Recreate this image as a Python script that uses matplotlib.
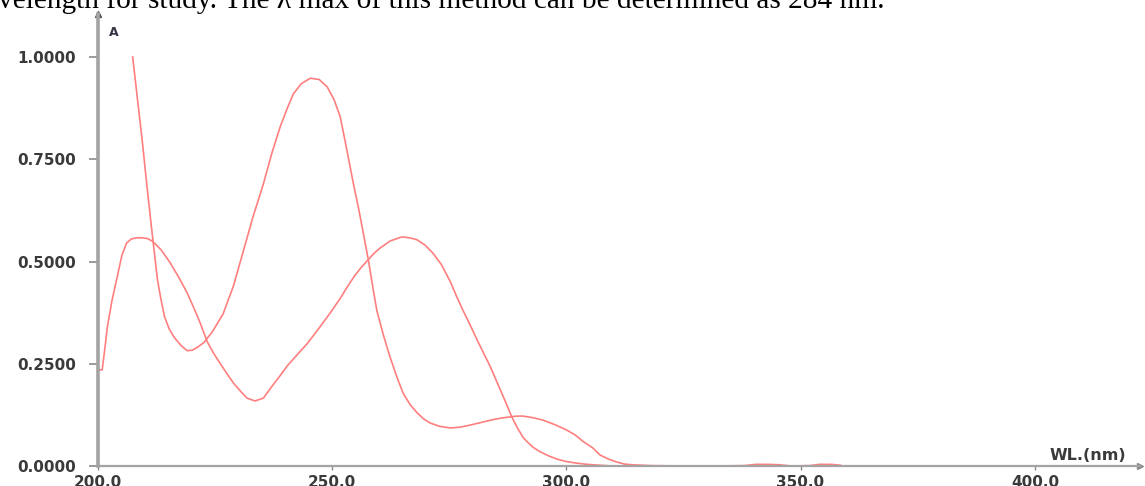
import numpy as np
import matplotlib
matplotlib.use("Agg")
import matplotlib.pyplot as plt

# spectrum 1 (starts high at ~207 nm, main peak ~245 nm)
wl1 = [207.5, 208.5, 209.5, 210.5, 211.5, 212.3, 212.8, 213.5, 214.3, 215.3, 216.4, 217.8,
       219.1, 220.2, 221.3, 222.7, 224.5, 226.8, 229.0, 231.1, 233.2, 235.4, 237.2, 239.0,
       240.5, 241.8, 243.5, 245.4, 247.3, 249.0, 250.5, 251.8, 253.2, 254.6, 255.7, 256.7,
       257.8, 258.7, 259.6, 261.0, 262.4, 263.8, 265.2, 266.7, 268.2, 269.6, 271.0, 273.0,
       275.3, 277.4, 279.5, 281.7, 283.8, 286.0, 288.0, 289.5, 290.8, 293.0, 295.1, 297.6,
       300.1, 301.9, 303.6, 305.7, 307.2, 309.0, 310.7, 312.3, 314.0, 318.0, 325.0, 332.0,
       338.0, 340.5, 343.0, 345.5, 348.0, 352.0, 354.0, 356.5, 358.5]
ab1 = [1.000, 0.900, 0.800, 0.690, 0.585, 0.505, 0.455, 0.410, 0.365, 0.335, 0.314, 0.295,
       0.282, 0.283, 0.290, 0.302, 0.328, 0.372, 0.440, 0.525, 0.610, 0.690, 0.765, 0.830,
       0.875, 0.910, 0.935, 0.948, 0.945, 0.927, 0.895, 0.853, 0.773, 0.690, 0.630, 0.570,
       0.503, 0.440, 0.380, 0.320, 0.267, 0.220, 0.178, 0.150, 0.130, 0.115, 0.105, 0.097,
       0.093, 0.095, 0.100, 0.106, 0.112, 0.117, 0.120, 0.122, 0.122, 0.118, 0.112, 0.101,
       0.088, 0.076, 0.060, 0.044, 0.027, 0.017, 0.010, 0.005, 0.003, 0.001, 0.000, 0.000,
       0.001, 0.004, 0.004, 0.003, 0.000, 0.001, 0.004, 0.004, 0.002]

# spectrum 2 (starts at 0.235, peaks ~209 nm and ~265 nm)
wl2 = [200.0, 201.0, 201.6, 202.1, 203.1, 204.2, 205.2, 206.2, 207.2, 208.3, 209.5, 210.7,
       211.8, 213.6, 215.5, 217.3, 219.1, 220.5, 221.9, 223.4, 224.8, 226.1, 227.6, 229.0,
       230.5, 231.9, 233.6, 235.4, 237.3, 238.9, 240.5, 242.6, 244.8, 247.2, 249.7, 251.8,
       253.3, 254.8, 256.3, 257.8, 259.0, 260.3, 262.4, 264.9, 266.6, 268.2, 269.9, 271.6,
       273.4, 275.3, 276.6, 278.0, 279.5, 281.0, 283.8, 286.6, 288.4, 289.5, 290.8, 291.6,
       292.9, 294.4, 296.2, 298.0, 300.0, 302.2, 304.5, 307.0, 310.0]
ab2 = [0.235, 0.235, 0.290, 0.340, 0.405, 0.462, 0.515, 0.545, 0.555, 0.558, 0.558, 0.556,
       0.549, 0.528, 0.497, 0.462, 0.424, 0.388, 0.350, 0.304, 0.275, 0.252, 0.226, 0.203,
       0.183, 0.166, 0.159, 0.166, 0.196, 0.220, 0.245, 0.272, 0.300, 0.336, 0.375, 0.410,
       0.438, 0.464, 0.486, 0.505, 0.520, 0.533, 0.550, 0.560, 0.558, 0.553, 0.540, 0.520,
       0.492, 0.450, 0.415, 0.380, 0.345, 0.308, 0.243, 0.169, 0.120, 0.095, 0.070, 0.060,
       0.046, 0.035, 0.025, 0.017, 0.011, 0.007, 0.004, 0.002, 0.000]

xticks = [200, 250, 300, 350, 400]
yticks = [0.0, 0.25, 0.5, 0.75, 1.0]

W, H = 1145, 486
fig = plt.figure(figsize=(W / 100, H / 100), dpi=100)

# axes box in pixels (left, right, top, bottom) from the reference
px_l, px_r, px_t, px_b = 97.5, 1140, 14, 466
ax = fig.add_axes([px_l / W, 1 - px_b / H, (px_r - px_l) / W, (px_b - px_t) / H])
ax.set_xlim(200, 200 + (px_r - px_l) / 4.687)
ax.set_ylim(0, (px_b - px_t) / 409)

line_col = "#ff7f7f"
ax.plot(wl1, ab1, color=line_col, lw=1.2, zorder=2, solid_joinstyle="round")
ax.plot(wl2, ab2, color=line_col, lw=1.2, zorder=2, solid_joinstyle="round")

axis_col = "#a3a3a3"
for s in ["top", "right"]:
    ax.spines[s].set_visible(False)
ax.spines["left"].set_color(axis_col)
ax.spines["left"].set_linewidth(2.6)
ax.spines["bottom"].set_color(axis_col)
ax.spines["bottom"].set_linewidth(1.6)

# arrow heads at the axis ends
ax.plot([1], [0], marker=">", ms=5, color="#8a8a8a", transform=ax.transAxes, clip_on=False)
ax.plot([0], [1], marker="^", ms=5, color="#555555", transform=ax.transAxes, clip_on=False)

lab_col = "#3a3a3a"
ax.set_xticks(xticks)
ax.set_xticklabels(["%.1f" % v for v in xticks])
ax.set_yticks(yticks)
ax.set_yticklabels(["%.4f" % v for v in yticks])
ax.tick_params(axis="y", length=6.5, width=1.2, color="#8a8a8a", pad=9,
               labelsize=11, labelcolor=lab_col)
ax.tick_params(axis="x", length=3, width=1.0, color="#8a8a8a", pad=3.5,
               labelsize=11, labelcolor=lab_col)
for t in ax.get_xticklabels() + ax.get_yticklabels():
    t.set_fontweight("bold")

fig.text(114 / W, 1 - 32 / H, "A", fontsize=9, fontweight="bold", color="#333344",
         ha="center", va="center")
fig.text(1088 / W, 1 - 456 / H, "WL.(nm)", fontsize=11.5, fontweight="bold", color=lab_col,
         ha="center", va="center")

# clipped line of the surrounding document text
fig.text(-2 / W, 1 - 7.5 / H,
         "velength for study. The \u03bb max of this method can be determined as 284 nm.",
         family="Liberation Serif", fontsize=21.2, color="black", ha="left", va="baseline")

fig.savefig("out.png", dpi=100)
